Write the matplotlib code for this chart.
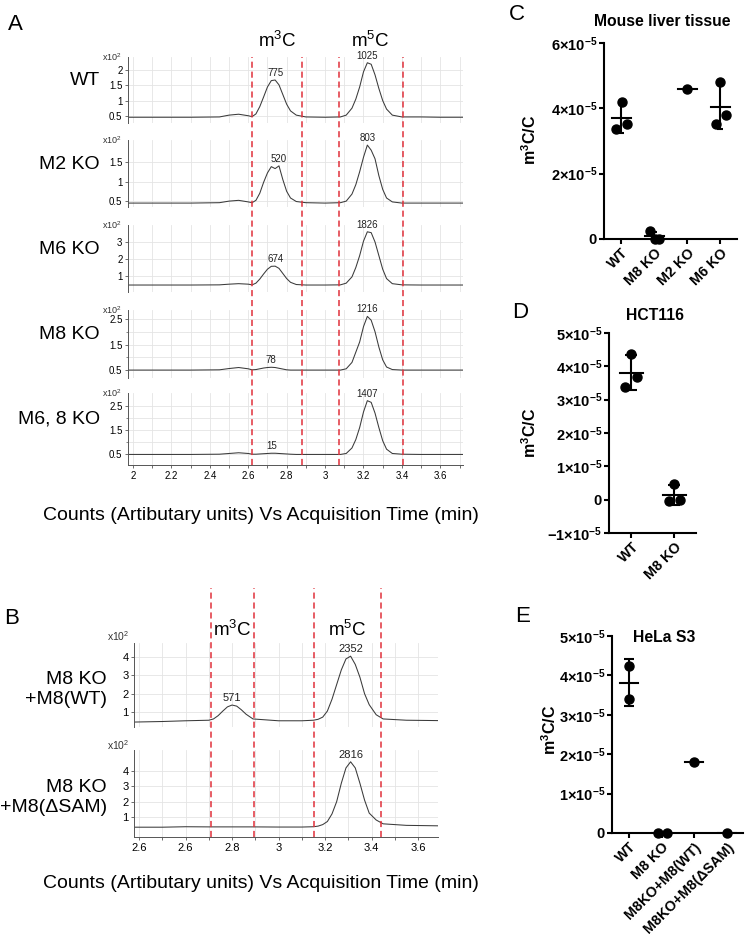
# -*- coding: utf-8 -*-
import matplotlib.pyplot as plt
import numpy as np

plt.rcParams['font.family'] = ['Liberation Sans', 'DejaVu Sans']
plt.rcParams['mathtext.fontset'] = 'custom'
plt.rcParams['mathtext.rm'] = 'Liberation Sans'
plt.rcParams['mathtext.bf'] = 'Liberation Sans:bold'
plt.rcParams['mathtext.it'] = 'Liberation Sans:italic'
plt.rcParams['mathtext.default'] = 'regular'

# ---A: chromatograms (x10^2 counts vs time, min)
t_a = [1.97, 2.10, 2.30, 2.45, 2.50, 2.55, 2.60, 2.62, 2.64, 2.66, 2.68, 2.70, 2.72,
       2.74, 2.76, 2.78, 2.80, 2.82, 2.85, 2.90, 3.00, 3.08, 3.11, 3.14, 3.16, 3.18,
       3.20, 3.22, 3.24, 3.26, 3.28, 3.30, 3.32, 3.35, 3.40, 3.50, 3.60, 3.72]
a_wt = [0.45, 0.45, 0.45, 0.46, 0.52, 0.55, 0.50, 0.47, 0.56, 0.80, 1.12, 1.45, 1.66,
        1.68, 1.52, 1.20, 0.88, 0.66, 0.52, 0.46, 0.45, 0.46, 0.52, 0.75, 1.05, 1.45,
        1.95, 2.25, 2.20, 1.85, 1.40, 1.00, 0.72, 0.52, 0.46, 0.46, 0.45, 0.45]
a_m2 = [0.45, 0.45, 0.45, 0.46, 0.50, 0.52, 0.48, 0.46, 0.52, 0.70, 0.98, 1.22, 1.38,
        1.33, 1.40, 1.05, 0.75, 0.58, 0.49, 0.46, 0.45, 0.46, 0.50, 0.68, 0.92, 1.25,
        1.62, 1.93, 1.80, 1.58, 1.15, 0.80, 0.58, 0.48, 0.45, 0.45, 0.45, 0.45]
a_m6 = [0.47, 0.47, 0.47, 0.48, 0.52, 0.55, 0.52, 0.48, 0.58, 0.82, 1.12, 1.40, 1.57,
        1.58, 1.45, 1.15, 0.85, 0.63, 0.50, 0.47, 0.47, 0.48, 0.58, 0.95, 1.50, 2.20,
        3.05, 3.60, 3.55, 3.00, 2.20, 1.40, 0.85, 0.55, 0.48, 0.47, 0.47, 0.47]
a_m8 = [0.50, 0.50, 0.50, 0.51, 0.56, 0.60, 0.55, 0.51, 0.52, 0.55, 0.58, 0.60, 0.61,
        0.60, 0.57, 0.54, 0.51, 0.50, 0.50, 0.50, 0.50, 0.50, 0.55, 0.80, 1.20, 1.60,
        2.20, 2.60, 2.45, 2.00, 1.40, 0.90, 0.62, 0.52, 0.50, 0.50, 0.50, 0.50]
a_m68 = [0.48, 0.48, 0.48, 0.49, 0.52, 0.55, 0.52, 0.49, 0.49, 0.50, 0.51, 0.52, 0.53,
         0.53, 0.52, 0.51, 0.50, 0.49, 0.48, 0.48, 0.48, 0.48, 0.52, 0.75, 1.10, 1.60,
         2.25, 2.72, 2.65, 2.20, 1.60, 1.05, 0.70, 0.52, 0.49, 0.48, 0.48, 0.48]
a_names = ['WT', 'M2 KO', 'M6 KO', 'M8 KO', 'M6, 8 KO']
a_areas = [(775, 1025), (520, 803), (674, 1826), (78, 1216), (15, 1407)]
a_cuts = [2.62, 2.88, 3.07, 3.405]

# ---B: rescue chromatograms
t_b = [2.378, 2.50, 2.60, 2.70, 2.72, 2.74, 2.76, 2.78, 2.80, 2.82, 2.84, 2.86, 2.89,
       3.00, 3.10, 3.15, 3.17, 3.19, 3.21, 3.23, 3.25, 3.27, 3.29, 3.31, 3.33, 3.35,
       3.37, 3.39, 3.42, 3.45, 3.55, 3.686]
b_wt = [0.45, 0.48, 0.52, 0.55, 0.62, 0.80, 1.05, 1.28, 1.38, 1.32, 1.12, 0.88, 0.62,
        0.52, 0.52, 0.55, 0.60, 0.72, 1.05, 1.70, 2.50, 3.30, 3.90, 4.05, 3.60, 2.90,
        2.00, 1.40, 0.85, 0.62, 0.55, 0.53]
b_dsam = [0.33, 0.33, 0.36, 0.35, 0.35, 0.35, 0.35, 0.35, 0.35, 0.35, 0.35, 0.35, 0.35,
          0.34, 0.34, 0.36, 0.40, 0.50, 0.70, 1.20, 2.00, 3.20, 4.20, 4.60, 4.20, 3.20,
          2.10, 1.25, 0.80, 0.55, 0.45, 0.42]
b_names = ['M8 KO\n+M8(WT)', 'M8 KO\n+M8(\u0394SAM)']
b_areas = [(571, 2352), (None, 2816)]
b_cuts = [2.71, 2.895, 3.153, 3.44]
b_ticklabels = ['2.6', '2.6', '2.8', '3', '3.2', '3.4', '3.6']

# ---C/D/E: m3C/C ratios (x1e-5)
c_groups = ['WT', 'M8 KO', 'M2 KO', 'M6 KO']
c_vals = [[4.19, 3.38, 3.51], [0.25, -0.01, 0.01], [4.60], [4.80, 3.51, 3.79]]
d_groups = ['WT', 'M8 KO']
d_vals = [[4.38, 3.38, 3.68], [0.48, -0.03, -0.02]]
e_groups = ['WT', 'M8 KO', 'M8KO+M8(WT)', 'M8KO+M8(\u0394SAM)']
e_vals = [[4.24, 3.39], [0.0, 0.0], [1.81], [0.0]]

W, H = 745, 944
fig = plt.figure(figsize=(W / 100, H / 100), dpi=100)


def box(x0, y0, x1, y1):
    return [x0 / W, 1 - y1 / H, (x1 - x0) / W, (y1 - y0) / H]


def chrom_axes(ax, xlim, last, fs):
    ax.set_xlim(xlim)
    ax.grid(True, which='both', color='#e4e4e4', lw=0.6)
    ax.set_axisbelow(True)
    for s in ['top', 'right']:
        ax.spines[s].set_visible(False)
    ax.spines['left'].set_color('#555555')
    ax.spines['left'].set_linewidth(0.7)
    ax.tick_params(axis='y', which='major', labelsize=fs, length=2.5, width=0.6,
                   color='#555555', pad=1.5)
    ax.tick_params(axis='y', which='minor', length=1.5, width=0.5, color='#555555')
    if last:
        ax.spines['bottom'].set_color('#555555')
        ax.spines['bottom'].set_linewidth(0.7)
        ax.tick_params(axis='x', which='both', labelsize=fs, length=2.5, width=0.6,
                       color='#555555', pad=2)
    else:
        ax.spines['bottom'].set_visible(False)
        ax.tick_params(axis='x', which='both', length=0, labelbottom=False)


def peak_labels(ax, t, y, cuts, areas, fs):
    t = np.array(t)
    y = np.array(y)
    for (lo, hi), area in zip([(cuts[0], cuts[1]), (cuts[2], cuts[3])], areas):
        if area is None:
            continue
        m = (t >= lo) & (t <= hi)
        k = np.argmax(np.where(m, y, -1))
        ax.annotate(str(area), (t[k], y[k]), xytext=(0, 1.5), textcoords='offset points',
                    ha='center', va='bottom', fontsize=fs, color='#222222')


# ---A
a_traces = [a_wt, a_m2, a_m6, a_m8, a_m68]
a_rows = [(57, 123), (140, 207), (225, 292), (310, 378), (393, 465)]
a_ylims = [(0.26, 2.44), (0.35, 2.06), (0.06, 4.0), (0.19, 2.85), (0.04, 3.04)]
a_yticks = [[0.5, 1, 1.5, 2], [0.5, 1, 1.5], [1, 2, 3], [0.5, 1.5, 2.5], [0.5, 1.5, 2.5]]
a_xlim = (1.974, 3.718)
for i in range(5):
    ax = fig.add_axes(box(128, a_rows[i][0], 463, a_rows[i][1]))
    ax.plot(t_a, a_traces[i], color='#3a3a3a', lw=0.75)
    ax.set_ylim(a_ylims[i])
    ax.set_yticks(a_yticks[i])
    ax.set_yticklabels(['%g' % v for v in a_yticks[i]])
    if i >= 3:
        ax.set_yticks([1, 2], minor=True)
    ax.set_xticks(np.round(np.arange(2.0, 3.61, 0.2), 1))
    ax.set_xticklabels(['%g' % v for v in np.round(np.arange(2.0, 3.61, 0.2), 1)])
    ax.set_xticks(np.round(np.arange(2.1, 3.71, 0.2), 1), minor=True)
    chrom_axes(ax, a_xlim, i == 4, 7)
    ax.text(-0.018, 1.0, 'x10$^2$', transform=ax.transAxes, ha='right', va='center',
            fontsize=6.5, color='#333333')
    ax.text(-0.084, 0.64, a_names[i], transform=ax.transAxes, ha='right', va='center',
            fontsize=14)
    peak_labels(ax, t_a, a_traces[i], a_cuts, a_areas[i], 7)

ov = fig.add_axes(box(128, 57, 463, 465))
ov.set_xlim(a_xlim)
ov.set_ylim(0, 1)
ov.axis('off')
for x in a_cuts:
    ov.axvline(x, color='#e0303a', ls=(0, (4, 2.5)), lw=1.1)
ov.text((a_cuts[0] + a_cuts[1]) / 2, 1.04, 'm$^3$C', ha='center', va='center', fontsize=13.5)
ov.text((a_cuts[2] + a_cuts[3]) / 2, 1.04, 'm$^5$C', ha='center', va='center', fontsize=13.5)

# ---B
b_traces = [b_wt, b_dsam]
b_rows = [(643, 727), (750, 837)]
b_ylims = [(0.18, 4.77), (-0.31, 5.37)]
b_xlim = (2.378, 3.686)
for i in range(2):
    ax = fig.add_axes(box(134, b_rows[i][0], 438, b_rows[i][1]))
    ax.plot(t_b, b_traces[i], color='#3a3a3a', lw=0.75)
    ax.set_ylim(b_ylims[i])
    ax.set_yticks([1, 2, 3, 4])
    ax.set_yticklabels(['1', '2', '3', '4'])
    ax.set_xticks(np.round(np.arange(2.4, 3.61, 0.2), 1))
    ax.set_xticklabels(b_ticklabels)
    ax.set_xticks(np.round(np.arange(2.5, 3.61, 0.2), 1), minor=True)
    chrom_axes(ax, b_xlim, i == 1, 8)
    hgt = b_rows[i][1] - b_rows[i][0]
    ax.text(-0.053, 1 + (7 if i == 0 else 5) / hgt, 'x10$^2$', transform=ax.transAxes,
            ha='center', va='center', fontsize=7.5, color='#333333')
    ax.text(-0.089, 0.45, b_names[i], transform=ax.transAxes, ha='right', va='center',
            fontsize=14, linespacing=1.25)
    peak_labels(ax, t_b, b_traces[i], b_cuts, b_areas[i], 8)

ov = fig.add_axes(box(134, 588, 438, 837))
ov.set_xlim(b_xlim)
ov.set_ylim(0, 1)
ov.axis('off')
for x in b_cuts:
    ov.axvline(x, color='#e0303a', ls=(0, (4, 2.5)), lw=1.1)
ov.text((b_cuts[0] + b_cuts[1]) / 2, 0.83, 'm$^3$C', ha='center', va='center', fontsize=13.5)
ov.text((b_cuts[2] + b_cuts[3]) / 2, 0.83, 'm$^5$C', ha='center', va='center', fontsize=13.5)

xl = 'Counts (Artibutary units) Vs Acquisition Time (min)'
fig.text(261 / W, 1 - 515 / H, xl, ha='center', va='center', fontsize=14)
fig.text(261 / W, 1 - 883 / H, xl, ha='center', va='center', fontsize=14)


# ---C, D, E
def sci(v):
    if v == 0:
        return '0'
    return r'$\mathbf{%d{\times}10^{-5}}$' % v


def dot_panel(rect, groups, vals, offs, ylim, yticks, hw, cap, title, title_xy, ylab_xy):
    ax = fig.add_axes(box(*rect))
    for i, v in enumerate(vals):
        x = [i + o for o in offs[i]]
        ax.plot(x, v, 'o', color='black', ms=6.5, zorder=4, clip_on=False)
        mu = np.mean(v)
        ax.plot([i - hw, i + hw], [mu, mu], color='black', lw=1.5, zorder=3)
        if len(v) > 1 and np.std(v) > 0:
            sd = np.std(v, ddof=1)
            ax.errorbar(i, mu, yerr=sd, color='black', elinewidth=1.5, capsize=cap,
                        capthick=1.5, zorder=3)
    ax.set_xlim(-0.52, len(groups) - 0.5)
    ax.set_ylim(ylim)
    ax.set_yticks(yticks)
    ax.set_yticklabels([sci(v) for v in yticks], fontsize=10.5, fontweight='bold')
    ax.set_xticks(range(len(groups)))
    ax.set_xticklabels(groups, rotation=45, ha='right', rotation_mode='anchor',
                       fontsize=10.3, fontweight='bold')
    for s in ['top', 'right']:
        ax.spines[s].set_visible(False)
    for s in ['left', 'bottom']:
        ax.spines[s].set_linewidth(1.5)
    ax.tick_params(axis='both', length=3.5, width=1.5, pad=1.5)
    ax.set_yticks([], minor=True)
    ax.patch.set_alpha(0)
    fig.text(title_xy[0] / W, 1 - title_xy[1] / H, title, ha='center', va='center',
             fontsize=11.3, fontweight='bold')
    fig.text(ylab_xy[0] / W, 1 - ylab_xy[1] / H, r'$\mathbf{m^3C/C}$', rotation=90,
             ha='center', va='center', fontsize=11.5)
    return ax


axc = dot_panel((604, 43, 737, 239), c_groups, c_vals,
                [[0.02, -0.15, 0.17], [-0.12, 0.02, 0.15], [0.0], [0.0, -0.12, 0.17]],
                (0, 6), [0, 2, 4, 6], 0.29, 2.5, 'Mouse liver tissue', (662, 21), (530, 140))
axd = dot_panel((609, 333, 696, 533), d_groups, d_vals,
                [[0.0, -0.15, 0.12], [0.0, -0.13, 0.12]],
                (-1, 5), [-1, 0, 1, 2, 3, 4, 5], 0.26, 4, 'HCT116', (655, 315), (530, 433))
axe = dot_panel((612, 636, 743, 833), e_groups, e_vals,
                [[0.0, 0.0], [-0.12, 0.17], [0.0], [0.0]],
                (0, 5), [0, 1, 2, 3, 4, 5], 0.28, 3.5, 'HeLa S3', (664, 637), (550, 730))
axd.set_yticklabels(['$\\mathbf{-1{\\times}10^{-5}}$'] + [sci(v) for v in [0, 1, 2, 3, 4, 5]],
                    fontsize=10.5, fontweight='bold')

for letter, (x, y) in zip('ABCDE', [(15, 25), (12, 618), (517, 15), (520, 312), (523, 617)]):
    fig.text(x / W, 1 - y / H, letter, ha='center', va='center', fontsize=16)

fig.savefig('out.png', dpi=100)
